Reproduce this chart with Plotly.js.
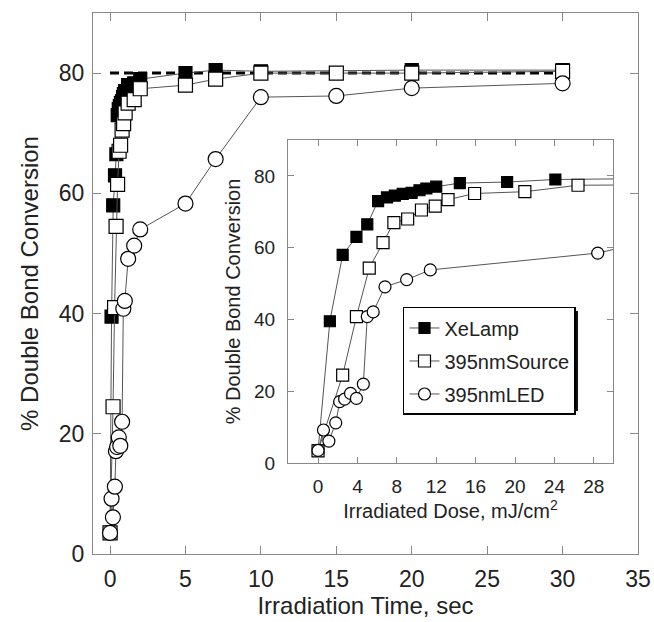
<!DOCTYPE html>
<html>
<head>
<meta charset="utf-8">
<script src="https://cdn.plot.ly/plotly-3.0.1.min.js"></script>
<style>html,body{margin:0;padding:0;background:#fff;}</style>
</head>
<body>
<div id="chart" style="width:654px;height:622px;"></div>
<script>
// ---- Main plot data (Irradiation time, sec vs % conversion) ----
const mainXeTime   = [0, 0.1, 0.21, 0.33, 0.42, 0.51, 0.58, 0.65, 0.72, 0.79, 0.86, 0.92, 1.0, 1.2, 1.6, 2.0, 5, 7, 10, 20, 30];
const mainXeConv   = [3.5, 39.5, 58, 63, 66.5, 73, 74, 74.5, 75, 75.3, 76, 76.5, 77, 78, 78.3, 79, 80, 80.5, 80.3, 80.5, 80.5];
const mainSrcTime  = [0, 0.2, 0.3, 0.4, 0.5, 0.6, 0.7, 0.8, 0.9, 1.0, 1.2, 1.6, 2.0, 5, 7, 10, 15, 20, 30];
const mainSrcConv  = [3.5, 24.5, 41, 54.5, 61.5, 67, 68, 70.5, 71.6, 73.4, 75, 75.6, 77.4, 78, 79, 80, 80, 80, 80.3];
const mainLedTime  = [0, 0.1, 0.19, 0.32, 0.39, 0.47, 0.58, 0.68, 0.8, 0.88, 0.98, 1.2, 1.6, 2.0, 5, 7, 10, 15, 20, 30];
const mainLedConv  = [3.5, 9.2, 6.1, 11.2, 17.1, 17.8, 19.4, 18, 22, 40.8, 42.1, 49.1, 51.3, 54, 58.3, 65.7, 76, 76.2, 77.5, 78.3];
const limitTime    = [0, 30];
const limitConv    = [80, 80];

// ---- Inset data (Irradiated dose, mJ/cm2 vs % conversion) ----
const insetXeDose  = [0, 1.2, 2.5, 3.9, 5.0, 6.1, 7.0, 7.8, 8.6, 9.5, 10.3, 11.0, 12.0, 14.4, 19.2, 24.1, 60];
const insetXeConv  = [3.5, 39.5, 58, 63, 66.5, 73, 74, 74.5, 75, 75.3, 76, 76.5, 77, 78, 78.3, 79, 80];
const insetSrcDose = [0, 2.5, 3.9, 5.2, 6.6, 7.7, 9.1, 10.5, 11.9, 13.2, 15.9, 21.0, 26.4, 65];
const insetSrcConv = [3.4, 24.5, 40.8, 54.3, 61.4, 67, 68, 70.5, 71.6, 73.4, 75.1, 75.6, 77.4, 78];
const insetLedDose = [0, 0.55, 1.1, 1.8, 2.2, 2.7, 3.3, 3.9, 4.6, 5.0, 5.6, 6.8, 9.0, 11.4, 28.4, 40];
const insetLedConv = [3.5, 9.2, 6.1, 11.2, 17.1, 17.8, 19.4, 18, 22, 40.8, 42.1, 49.1, 51.1, 53.8, 58.5, 65.7];

// ---- Names and ticks ----
const seriesNames  = ['XeLamp', '395nmSource', '395nmLED'];
const mainXTicks   = [0, 5, 10, 15, 20, 25, 30, 35];
const mainYTicks   = [0, 20, 40, 60, 80];
const insetXTicks  = [0, 4, 8, 12, 16, 20, 24, 28];
const insetYTicks  = [0, 20, 40, 60, 80];

const lineStyle = {color: '#555', width: 1};
function mk(symbol, fill, size) {
  return {symbol: symbol, color: fill, size: size, line: {color: '#000', width: 1.2}};
}

const traces = [
  {x: limitTime, y: limitConv, mode: 'lines', line: {color: '#000', width: 3, dash: '9px,5px'},
   showlegend: false, xaxis: 'x', yaxis: 'y', hoverinfo: 'skip'},
  {x: mainXeTime, y: mainXeConv, mode: 'lines+markers', line: lineStyle, marker: mk('square', '#000', 13),
   showlegend: false, xaxis: 'x', yaxis: 'y', name: seriesNames[0]},
  {x: mainSrcTime, y: mainSrcConv, mode: 'lines+markers', line: lineStyle, marker: mk('square', '#fff', 14),
   showlegend: false, xaxis: 'x', yaxis: 'y', name: seriesNames[1]},
  {x: mainLedTime, y: mainLedConv, mode: 'lines+markers', line: lineStyle, marker: mk('circle', '#fff', 15),
   showlegend: false, xaxis: 'x', yaxis: 'y', name: seriesNames[2]},
  {x: insetXeDose, y: insetXeConv, mode: 'lines+markers', line: lineStyle, marker: mk('square', '#000', 11),
   xaxis: 'x2', yaxis: 'y2', name: seriesNames[0], legendgroup: 'a'},
  {x: insetSrcDose, y: insetSrcConv, mode: 'lines+markers', line: lineStyle, marker: mk('square', '#fff', 12),
   xaxis: 'x2', yaxis: 'y2', name: seriesNames[1], legendgroup: 'b'},
  {x: insetLedDose, y: insetLedConv, mode: 'lines+markers', line: lineStyle, marker: mk('circle', '#fff', 12),
   xaxis: 'x2', yaxis: 'y2', name: seriesNames[2], legendgroup: 'c'}
];

const axCommon = {
  showline: true, linecolor: '#888', linewidth: 1, mirror: 'ticks',
  ticks: 'inside', ticklen: 8, tickcolor: '#888', tickwidth: 1,
  showgrid: false, zeroline: false, automargin: false
};

// pixel -> paper helpers for the legend shadow
const PL = 93, PW = 545, PB = 554, PH = 541;
const px = v => (v - PL) / PW;
const py = v => (PB - v) / PH;

const layout = {
  width: 654, height: 622,
  margin: {l: 93, r: 16, t: 13, b: 68},
  paper_bgcolor: '#fff', plot_bgcolor: '#fff',
  font: {family: 'Liberation Sans, Arial, sans-serif', color: '#222'},
  showlegend: true,
  legend: {
    x: 0.5688, y: 0.4566, xanchor: 'left', yanchor: 'top',
    bgcolor: '#fff', bordercolor: '#000', borderwidth: 1.5,
    font: {size: 20, color: '#222'}, traceorder: 'grouped', tracegroupgap: 4
  },
  shapes: [
    {type: 'rect', xref: 'paper', yref: 'paper', layer: 'above',
     x0: px(408), x1: px(578), y0: py(411), y1: py(311),
     fillcolor: '#111', line: {width: 0}}
  ],
  xaxis: Object.assign({}, axCommon, {
    domain: [0, 1], range: [-1.13, 35], tickvals: mainXTicks, anchor: 'y',
    tickfont: {size: 23}, ticklabelstandoff: 4,
    title: {text: 'Irradiation Time, sec', font: {size: 24}, standoff: 2}
  }),
  yaxis: Object.assign({}, axCommon, {
    domain: [0, 1], range: [0, 90], tickvals: mainYTicks, anchor: 'x',
    tickfont: {size: 23}, ticklabelstandoff: 3,
    title: {text: '% Double Bond Conversion', font: {size: 24}, standoff: 13}
  }),
  xaxis2: Object.assign({}, axCommon, {
    domain: [0.3578, 0.9541], range: [-3.05, 29.95], tickvals: insetXTicks, anchor: 'y2',
    tickfont: {size: 19}, ticklabelstandoff: 6, ticklen: 6,
    title: {text: 'Irradiated Dose, mJ/cm<sup>2</sup>', font: {size: 20}, standoff: 4}
  }),
  yaxis2: Object.assign({}, axCommon, {
    domain: [0.1682, 0.7652], range: [0, 90], tickvals: insetYTicks, anchor: 'x2',
    tickfont: {size: 19}, ticklabelstandoff: 8, ticklen: 6,
    title: {text: '% Double Bond Conversion', font: {size: 20}, standoff: 8}
  })
};

Plotly.newPlot('chart', traces, layout, {displayModeBar: false, staticPlot: true});
</script>
</body>
</html>
